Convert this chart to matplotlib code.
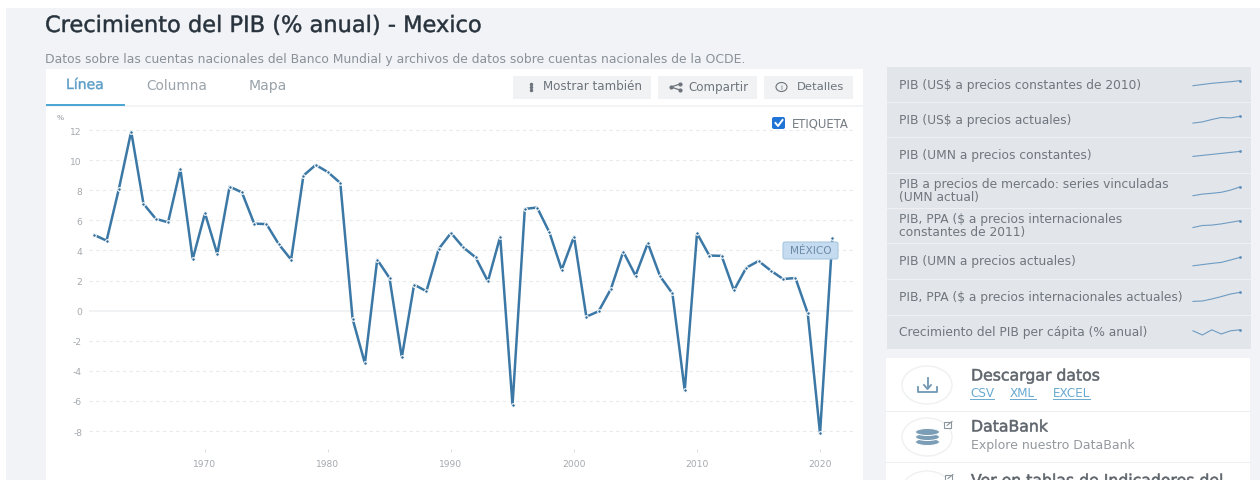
import matplotlib
matplotlib.use("Agg")
import matplotlib.pyplot as plt
import matplotlib.patheffects as pe
from matplotlib.patches import Rectangle, FancyBboxPatch, Ellipse

plt.rcParams['font.family'] = ['DejaVu Sans']

W, H = 1260, 481

# Crecimiento del PIB, % anual
years = list(range(1961, 2022))
growth = [5.03, 4.65, 8.09, 11.9, 7.1, 6.1, 5.87, 9.4, 3.42, 6.47,
          3.76, 8.24, 7.86, 5.78, 5.75, 4.41, 3.39, 8.97, 9.68, 9.2,
          8.48, -0.55, -3.5, 3.39, 2.17, -3.1, 1.73, 1.29, 4.1, 5.16,
          4.2, 3.54, 1.95, 4.92, -6.27, 6.76, 6.85, 5.2, 2.72, 4.92,
          -0.4, -0.04, 1.44, 3.92, 2.33, 4.48, 2.28, 1.14, -5.3, 5.14,
          3.66, 3.64, 1.35, 2.85, 3.3, 2.66, 2.1, 2.17, -0.17, -8.16, 4.8]
y_ticks = [-8, -6, -4, -2, 0, 2, 4, 6, 8, 10, 12]
x_ticks = [1970, 1980, 1990, 2000, 2010, 2020]

# Indicadores relacionados y sus minigraficos
related_labels = ["PIB (US$ a precios constantes de 2010)",
                  "PIB (US$ a precios actuales)",
                  "PIB (UMN a precios constantes)",
                  "PIB a precios de mercado: series vinculadas\n(UMN actual)",
                  "PIB, PPA ($ a precios internacionales\nconstantes de 2011)",
                  "PIB (UMN a precios actuales)",
                  "PIB, PPA ($ a precios internacionales actuales)",
                  "Crecimiento del PIB per cápita (% anual)"]
related_sparks = [[44, 50, 56, 60, 64, 69],
                  [32, 38, 50, 60, 58, 66],
                  [43, 48, 53, 58, 63, 68],
                  [24, 32, 36, 41, 52, 68],
                  [40, 50, 52, 58, 66, 74],
                  [26, 32, 38, 43, 55, 68],
                  [28, 30, 40, 52, 65, 73],
                  [56, 35, 61, 40, 56, 61]]
row_edges = [68, 103, 138, 174, 209, 244, 280, 316, 350]

fig = plt.figure(figsize=(W / 100, H / 100), dpi=100, facecolor='white')

# capa de interfaz en pixeles
ui = fig.add_axes([0, 0, 1, 1])
ui.set_xlim(0, W)
ui.set_ylim(H, 0)
ui.axis('off')

# DejaVu no tiene peso medio: un trazo fino lo simula
medium = [pe.Stroke(linewidth=0.35, foreground='#27323c')]
medium_gray = [pe.Stroke(linewidth=0.4, foreground='#5d646b')]


def px(size):
    return size * 0.72


def box(x0, y0, x1, y1, color, **kw):
    ui.add_patch(Rectangle((x0, y0), x1 - x0, y1 - y0, facecolor=color, edgecolor='none', **kw))


def label(x, y, s, size, color, **kw):
    kw.setdefault('va', 'center')
    return ui.text(x, y, s, fontsize=px(size), color=color, **kw)


box(6, 9, W, H, '#f1f3f7')
box(46, 70, 863, H, 'white')

label(45, 27, "Crecimiento del PIB (% anual) - Mexico", 22.5, '#27323c', path_effects=medium)
label(45, 59, "Datos sobre las cuentas nacionales del Banco Mundial y archivos de datos sobre cuentas nacionales de la OCDE.",
      12.4, '#8a9198')

# pestanas
label(66, 86, "Línea", 14, '#5a9cc6', path_effects=[pe.Stroke(linewidth=0.3, foreground='#5a9cc6')])
label(146, 86, "Columna", 13.8, '#9aa3aa')
label(249, 86, "Mapa", 14, '#9aa3aa')
box(46, 106, 863, 108, '#f3f4f6')
box(46, 105, 125, 107, '#4ea6d4')

# botones
for x0, x1 in [(513, 651), (658, 757), (764, 853)]:
    box(x0, 77, x1, 100, '#f1f2f4')
label(543, 87, "Mostrar también", 11.9, '#6d747b')
label(688, 87, "Compartir", 11.9, '#6d747b')
label(797, 87, "Detalles", 11.5, '#6d747b')
ui.plot([530.5] * 3, [85, 88, 91], ls='none', marker='o', ms=1.5, color='#6d747b')
ui.plot([680, 671, 680], [85, 88, 91], color='#6d747b', lw=0.9, marker='o', ms=2)
ui.add_patch(Ellipse((781.5, 88), 11, 9, facecolor='none', edgecolor='#6d747b', lw=0.8))
label(781.5, 88, "i", 7, '#6d747b', ha='center')

# casilla ETIQUETA
ui.add_patch(FancyBboxPatch((773, 119), 11, 10, boxstyle='round,pad=1,rounding_size=2',
                            facecolor='#1f74d6', edgecolor='none'))
ui.plot([775.5, 778, 782.5], [124, 127, 121], color='white', lw=1.4)
label(792, 124, "ETIQUETA", 11.6, '#747b82')

# panel derecho
box(887, 68, 1251, 350, '#e2e5ea')
for edge in row_edges[1:-1]:
    box(887, edge - 0.5, 1251, edge + 0.5, '#eef0f3')
for i, text in enumerate(related_labels):
    center = (row_edges[i] + row_edges[i + 1]) / 2
    ui.text(899, center, text, fontsize=px(12.3), color='#6f767d', va='center', linespacing=1.0)
    spark = fig.add_axes([1193 / W, 1 - (center + 10) / H, 47 / W, 20 / H])
    spark.set_xlim(0, len(related_sparks[i]) - 1)
    spark.set_ylim(0, 100)
    spark.axis('off')
    spark.plot(range(len(related_sparks[i])), related_sparks[i], color='#6f9cc2', lw=0.8,
               marker='o', ms=2, mfc='#5f8fb8', mec='none', markevery=[-1], clip_on=False)

# tarjetas inferiores
box(886, 359, 1250, H, 'white')
box(886, 411.5, 1250, 412.5, '#eceef1')
box(886, 463, 1250, 464, '#eceef1')
for cy in [386, 438, 491]:
    ui.add_patch(Ellipse((927, cy), 50, 38, facecolor='white', edgecolor='#eef0f2', lw=1))

# icono de descarga
ui.plot([918, 918, 937, 937], [388, 393, 393, 388], color='#6f97b3', lw=1.3)
ui.plot([927.5, 927.5], [379, 389], color='#6f97b3', lw=1.3)
ui.plot([924, 927.5, 931], [386, 390, 386], color='#6f97b3', lw=1.3)

# icono de base de datos
for cy in [443, 438, 433]:
    ui.add_patch(Ellipse((927.5, cy), 24, 7, facecolor='#7b9db5', edgecolor='white', lw=0.7))

# enlaces externos
for ex, ey in [(944, 423), (945, 476)]:
    ui.add_patch(Rectangle((ex, ey), 7, 6, facecolor='white', edgecolor='#8c959c', lw=0.8))
    ui.plot([ex + 3, ex + 8], [ey + 3.5, ey - 0.5], color='#8c959c', lw=0.8)

label(971, 377, "Descargar datos", 15.7, '#5d646b', path_effects=medium_gray)
for x, s, x1 in [(970, "CSV", 994), (1010, "XML", 1036), (1053, "EXCEL", 1090)]:
    label(x, 394, s, 12, '#6aa9d0')
    ui.plot([x, x1], [400, 400], color='#6aa9d0', lw=0.7)
label(971, 428, "DataBank", 15.7, '#5d646b', path_effects=medium_gray)
label(971, 446, "Explore nuestro DataBank", 12.5, '#94999f')
label(971, 482, "Ver en tablas de Indicadores del", 15.7, '#5d646b', path_effects=medium_gray)

# grafico principal, escala fijada por los pixeles de la rejilla
ax = fig.add_axes([89 / W, 1 - 450 / H, (853 - 89) / W, (450 - 125) / H])
ax.patch.set_alpha(0)
ax.set_xlim(1960.57, 2022.68)
ax.set_ylim(-9.19, 12.4)
for side in ax.spines.values():
    side.set_visible(False)
ax.set_yticks(y_ticks)
ax.set_xticks(x_ticks)
ax.tick_params(axis='y', length=0, pad=5, labelsize=px(9.2), labelcolor='#a4a9ae')
ax.tick_params(axis='x', length=2, width=0.6, color='#d5d8db', pad=5, labelsize=px(9.2), labelcolor='#a4a9ae')
ax.yaxis.set_major_formatter(lambda v, pos: f"{v:.0f}")
for v in y_ticks:
    if v == 0:
        ax.axhline(v, color='#eeeff1', lw=1.1, zorder=1)
    else:
        ax.axhline(v, color='#e8eaec', lw=0.8, ls=(0, (3, 3)), zorder=1)
ax.plot(years, growth, color='#3b78a5', lw=1.8, zorder=3, clip_on=False,
        marker='o', ms=2.6, mfc='#2f6a96', mec='white', mew=0.8)

label(57, 118, "%", 7.5, '#8f959a')

# etiqueta del pais encima de la linea
ax.add_patch(FancyBboxPatch((784, 244), 53, 15, boxstyle='round,pad=1,rounding_size=2', transform=ui.transData,
                            facecolor='#c5dbef', edgecolor='#a9c8e0', lw=0.8, zorder=4, clip_on=False))
ax.text(810.5, 251.5, "MÉXICO", transform=ui.transData, ha='center', va='center', fontsize=px(10.5),
        color='#6d8ba8', zorder=5)

fig.savefig("out.png", dpi=100, facecolor='white')
